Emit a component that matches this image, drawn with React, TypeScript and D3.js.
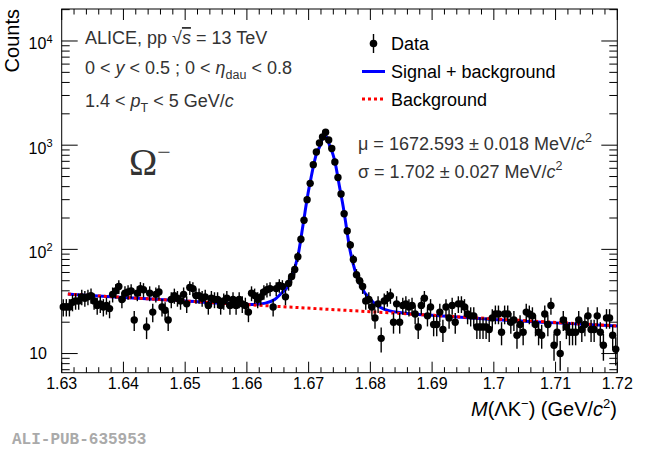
import * as d3 from "d3";

// Omega- invariant mass histogram, 0.5 MeV bins from 1.63 to 1.72 GeV/c^2
const binLow = 1.63;
const binWidth = 0.0005;
const counts = [
  28, 28, 28, 31, 32, 32, 35, 34, 35, 36, 32, 29, 30, 28, 29, 27, 37, 40, 44, 33,
  38, 39, 40, 21, 38, 42, 41, 18, 38, 25, 37, 39, 28, 26, 21, 33, 36, 34, 32, 37,
  30, 43, 42, 36, 36, 34, 35, 29, 34, 33, 33, 29, 32, 34, 29, 33, 29, 33, 30, 29,
  25, 38, 36, 33, 35, 39, 41, 42, 28, 42, 45, 44, 35, 47, 55, 64, 85, 125, 190, 300,
  430, 650, 860, 1050, 1200, 1330, 1120, 930, 690, 490, 340, 220, 150, 110, 80, 57, 50, 44, 32, 33,
  28, 22, 30, 14, 32, 34, 36, 20, 30, 20, 29, 30, 28, 29, 24, 18, 29, 34, 23, 28,
  19, 19, 25, 17, 28, 22, 29, 20, 30, 30, 28, 24, 23, 23, 18, 18, 18, 18, 17, 22,
  24, 24, 16, 24, 24, 20, 21, 15, 19, 16, 25, 24, 23, 19, 16, 15, 24, 19, 29, 12,
  16, 10, 21, 18, 16, 16, 16, 21, 17, 19, 23, 17, 17, 23, 16, 12, 22, 22, 15, 11,
];

// fitted curves
const fitMass = [
  1.631, 1.64, 1.65, 1.658, 1.661, 1.663, 1.6645, 1.6656, 1.6665, 1.6672, 1.6678, 1.6684,
  1.6689, 1.6694, 1.6699, 1.6704, 1.6709, 1.6713, 1.6718, 1.6722, 1.6726, 1.673, 1.6734,
  1.6739, 1.6742, 1.675, 1.6756, 1.6761, 1.6766, 1.6775, 1.6785, 1.6801, 1.6823, 1.685,
  1.69, 1.70, 1.71, 1.72,
];
const fitTotal = [
  37.2, 34.6, 31.9, 30, 29.6, 30.5, 33, 37.9, 43, 53, 68, 95,
  145, 225, 344, 490, 680, 840, 970, 1150, 1250, 1160, 990,
  830, 720, 400, 256, 165, 106, 63, 44, 32.6, 26.5, 24.6,
  23.3, 21.2, 19.7, 18.4,
];
const bkgMass = [1.631, 1.66, 1.69, 1.72];
const bkgValue = [37.2, 29.5, 23.3, 18.4];

const xMajorTicks = [1.63, 1.64, 1.65, 1.66, 1.67, 1.68, 1.69, 1.7, 1.71, 1.72];
const xTickLabels = ["1.63", "1.64", "1.65", "1.66", "1.67", "1.68", "1.69", "1.7", "1.71", "1.72"];
const yDecades = [10, 100, 1000, 10000];
const yExponents = ["", "2", "3", "4"];

const W = 650;
const H = 449;
const plot = { left: 61.7, right: 617.3, top: 9, bottom: 372.7 };
const font = "'Liberation Sans', Arial, Helvetica, sans-serif";

const App = () => {
  const x = d3.scaleLinear().domain([1.63, 1.72]).range([plot.left, plot.right]);
  const y = d3.scaleLog().domain([6.55, 20280]).range([plot.bottom, plot.top]);

  const bins = counts.map((c, i) => ({ m: binLow + (i + 0.5) * binWidth, c }));

  const xMinor = d3
    .range(0, 46)
    .map((i) => 1.63 + i * 0.002)
    .filter((v) => !xMajorTicks.some((t) => Math.abs(t - v) < 1e-6));
  const yMinor: number[] = [];
  [1, 10, 100, 1000, 10000].forEach((d) => {
    for (let k = 2; k <= 9; k++) {
      const v = d * k;
      if (v > 6.55 && v < 20280) yMinor.push(v);
    }
  });

  const line = d3
    .line<[number, number]>()
    .x((d) => x(d[0]))
    .y((d) => y(d[1]))
    .curve(d3.curveMonotoneX);
  const totalPath = line(fitMass.map((m, i) => [m, fitTotal[i]] as [number, number])) ?? "";
  const bkgPath = line(bkgMass.map((m, i) => [m, bkgValue[i]] as [number, number])) ?? "";

  const txt = "#333";

  return (
    <svg
      width={W}
      height={H}
      viewBox={`0 0 ${W} ${H}`}
      style={{ position: "absolute", left: 0, top: 0, background: "#fff" }}
      fontFamily={font}
    >
      <rect x={0} y={0} width={W} height={H} fill="#fff" />

      {/* axis ticks */}
      <g stroke="#000" strokeWidth={1}>
        {xMajorTicks.map((t) => (
          <g key={`xM${t}`}>
            <line x1={x(t)} x2={x(t)} y1={plot.bottom} y2={plot.bottom - 11} />
            <line x1={x(t)} x2={x(t)} y1={plot.top} y2={plot.top + 11} />
          </g>
        ))}
        {xMinor.map((t) => (
          <g key={`xm${t}`}>
            <line x1={x(t)} x2={x(t)} y1={plot.bottom} y2={plot.bottom - 5.5} />
            <line x1={x(t)} x2={x(t)} y1={plot.top} y2={plot.top + 5.5} />
          </g>
        ))}
        {yDecades.map((t) => (
          <g key={`yM${t}`}>
            <line x1={plot.left} x2={plot.left + 16} y1={y(t)} y2={y(t)} />
            <line x1={plot.right} x2={plot.right - 16} y1={y(t)} y2={y(t)} />
          </g>
        ))}
        {yMinor.map((t) => (
          <g key={`ym${t}`}>
            <line x1={plot.left} x2={plot.left + 8} y1={y(t)} y2={y(t)} />
            <line x1={plot.right} x2={plot.right - 8} y1={y(t)} y2={y(t)} />
          </g>
        ))}
      </g>

      {/* fit curves */}
      <path d={totalPath} fill="none" stroke="#0000ff" strokeWidth={3} />
      <path d={bkgPath} fill="none" stroke="#ff0000" strokeWidth={3} strokeDasharray="3 3" />

      {/* data */}
      <g>
        {bins.map((b, i) => {
          const e = Math.sqrt(b.c);
          return (
            <g key={i}>
              <line
                x1={x(b.m)}
                x2={x(b.m)}
                y1={y(b.c + e)}
                y2={y(Math.max(b.c - e, 6.56))}
                stroke="#000"
                strokeWidth={1.4}
              />
              <circle cx={x(b.m)} cy={y(b.c)} r={3.7} fill="#000" />
            </g>
          );
        })}
      </g>

      <rect
        x={plot.left}
        y={plot.top}
        width={plot.right - plot.left}
        height={plot.bottom - plot.top}
        fill="none"
        stroke="#000"
        strokeWidth={1}
      />

      {/* tick labels */}
      <g fontSize={16} fill="#000" textAnchor="middle">
        {xMajorTicks.map((t, i) => (
          <text key={t} x={x(t)} y={388.5}>
            {xTickLabels[i]}
          </text>
        ))}
      </g>
      <g fontSize={16} fill="#000" textAnchor="end">
        {yDecades.map((t, i) =>
          yExponents[i] ? (
            <text key={t} x={52.5} y={y(t) + 8.5}>
              10
              <tspan fontSize={11} dy={-6.5}>
                {yExponents[i]}
              </tspan>
            </text>
          ) : (
            <text key={t} x={47} y={y(t) + 5.5}>
              10
            </text>
          )
        )}
      </g>

      {/* axis titles */}
      <text transform="translate(18.5,9) rotate(-90)" textAnchor="end" fontSize={20} fill="#000">
        Counts
      </text>
      <text x={617} y={416} textAnchor="end" fontSize={20} fill="#000">
        <tspan fontStyle="italic">M</tspan>(ΛK
        <tspan fontSize={13} dy={-8}>−</tspan>
        <tspan dy={8}>) (GeV/</tspan>
        <tspan fontStyle="italic">c</tspan>
        <tspan fontSize={13} dy={-8}>2</tspan>
        <tspan dy={8}>)</tspan>
      </text>

      {/* annotations */}
      <g fontSize={18} fill={txt}>
        <text x={85} y={44}>
          ALICE, pp √<tspan fontStyle="italic" textDecoration="overline">s</tspan> = 13 TeV
        </text>
        <text x={85} y={73.5}>
          0 &lt; <tspan fontStyle="italic">y</tspan> &lt; 0.5 ; 0 &lt;  <tspan fontStyle="italic">η</tspan>
          <tspan fontSize={12.5} dy={5}>dau</tspan>
          <tspan dy={-5}> &lt; 0.8</tspan>
        </text>
        <text x={85} y={106.5}>
          1.4 &lt; <tspan fontStyle="italic">p</tspan>
          <tspan fontSize={12.5} dy={5}>T</tspan>
          <tspan dy={-5}> &lt; 5 GeV/</tspan>
          <tspan fontStyle="italic">c</tspan>
        </text>
        <text x={358} y={149.5}>
          μ = 1672.593 ± 0.018 MeV/<tspan fontStyle="italic">c</tspan>
          <tspan fontSize={12.5} dy={-7.5}>2</tspan>
        </text>
        <text x={358} y={177.5}>
          σ = 1.702 ± 0.027 MeV/<tspan fontStyle="italic">c</tspan>
          <tspan fontSize={12.5} dy={-7.5}>2</tspan>
        </text>
      </g>
      <text
        x={129}
        y={175}
        fontFamily="'Liberation Serif', 'Times New Roman', serif"
        fontSize={38}
        fill={txt}
      >
        Ω<tspan fontSize={24} dy={-15}>−</tspan>
      </text>

      {/* legend */}
      <g>
        <line x1={373.5} x2={373.5} y1={34} y2={53} stroke="#000" strokeWidth={1.4} />
        <circle cx={373.5} cy={43.5} r={3.8} fill="#000" />
        <line x1={362} x2={385} y1={71.5} y2={71.5} stroke="#0000ff" strokeWidth={3} />
        <line x1={362} x2={385} y1={99} y2={99} stroke="#ff0000" strokeWidth={3} strokeDasharray="3 3" />
        <g fontSize={18} fill="#000">
          <text x={391} y={49.5}>Data</text>
          <text x={391} y={77.5}>Signal + background</text>
          <text x={391} y={105.5}>Background</text>
        </g>
      </g>

      <text
        x={12}
        y={444}
        fontFamily="'Liberation Mono', 'DejaVu Sans Mono', monospace"
        fontWeight="bold"
        fontSize={16}
        fill="#aaa"
      >
        ALI-PUB-635953
      </text>
    </svg>
  );
};

export default App;
